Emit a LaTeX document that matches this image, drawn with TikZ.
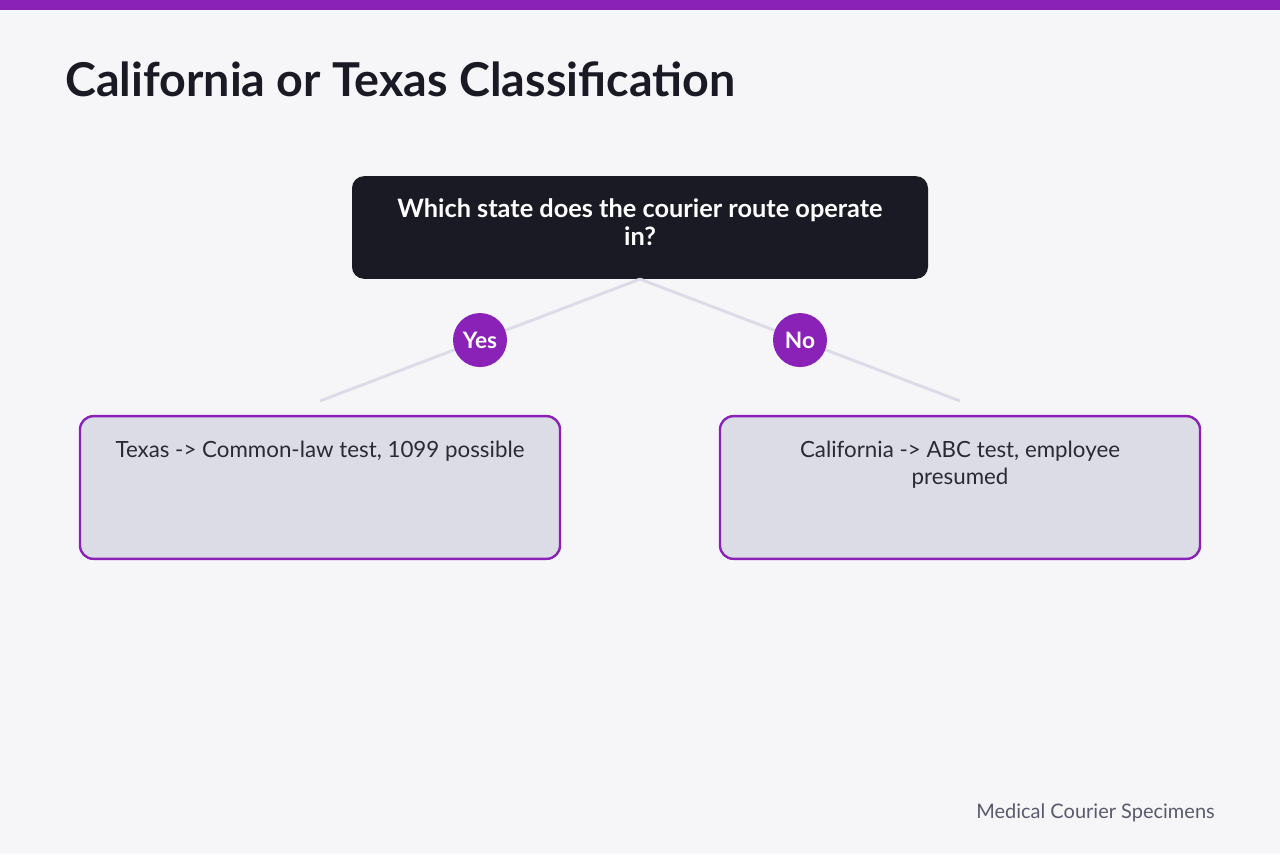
\documentclass[tikz,border=0pt]{standalone}
\usepackage{fontspec}
\setmainfont{Lato}
\usetikzlibrary{positioning}
\definecolor{bgcol}{HTML}{F6F6F9}
\definecolor{purplec}{HTML}{8A22B8}
\definecolor{darkbox}{HTML}{1A1A24}
\definecolor{lilac}{HTML}{DCDCE6}
\definecolor{inkc}{HTML}{2A2A35}
\definecolor{footc}{HTML}{5A5A6E}
\tikzset{
  question/.style={fill=darkbox, rounded corners=9pt, minimum width=432pt, minimum height=77pt,
    text=white, font=\bfseries\fontsize{19}{21}\selectfont, align=center},
  answer/.style={fill=lilac, draw=purplec, line width=1.8pt, rounded corners=10pt,
    minimum width=360pt, minimum height=107pt},
  answertext/.style={text=inkc, font=\fontsize{16.75}{20.25}\selectfont, align=center, inner sep=0pt},
  branch/.style={draw=lilac, line width=2.2pt},
  choice/.style={circle, fill=purplec, minimum size=40.5pt, inner sep=0pt,
    text=white, font=\bfseries\fontsize{17}{20}\selectfont},
}
\begin{document}
\begin{tikzpicture}[x=0.75pt, y=-0.75pt]
\fill[bgcol] (0,0) rectangle (1280,854);
\fill[purplec] (0,0) rectangle (1280,10);
\node[anchor=base west, inner sep=0pt, text=darkbox, font=\bfseries\fontsize{35}{40}\selectfont] (title) at (65,96) {California or Texas Classification};
% question and branches
\node[question] (state) at (640,227.5) {Which state does the courier route operate\\in?\rule[-8pt]{0pt}{1pt}};
\coordinate (yesend) at (320,401);
\coordinate (noend) at (960,401);
\draw[branch] (state.south) -- node[choice] (yes) {Yes} (yesend);
\draw[branch] (state.south) -- node[choice] (no) {No} (noend);
% answers
\node[answer] (texas) at (320,487.5) {};
\node[answer] (california) at (960,487.5) {};
\node[answertext, below=19pt of texas.north] (texastxt) {Texas -> Common-law test, 1099 possible};
\node[answertext, below=19pt of california.north] (californiatxt) {California -> ABC test, employee\\presumed};
\node[anchor=base east, inner sep=0pt, text=footc, font=\fontsize{15}{18}\selectfont] (foot) at (1215,818) {Medical Courier Specimens};
\end{tikzpicture}
\end{document}
